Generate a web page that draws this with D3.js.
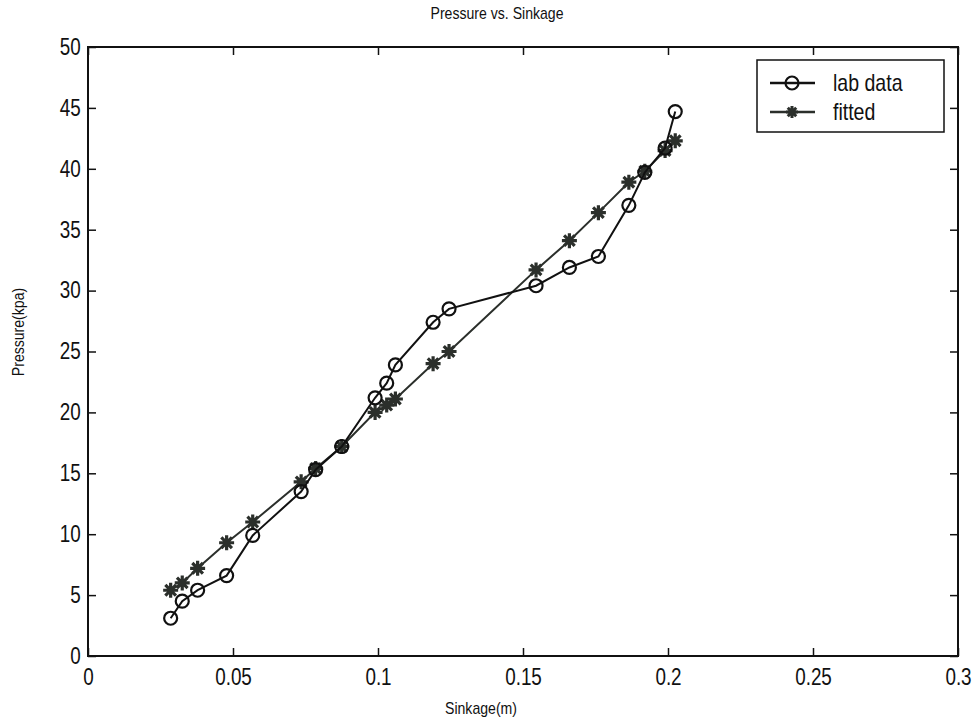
<!DOCTYPE html>
<html>
<head>
<meta charset="utf-8">
<script src="https://cdn.jsdelivr.net/npm/d3@7"></script>
<style>
	body { margin: 0; background: #fff; }
	text { font-family: "Liberation Sans Narrow", "Arial Narrow", "Liberation Sans", sans-serif; fill: #111; }
</style>
</head>
<body>
<div id="chart"></div>
<script>
// Data
const sinkage = [0.0285, 0.0325, 0.0378, 0.0478, 0.0568, 0.0735, 0.0785, 0.0875, 0.0990, 0.1030,
	0.1060, 0.1190, 0.1245, 0.1545, 0.1660, 0.1760, 0.1865, 0.1920, 0.1990, 0.2025];
const labData = [3.1, 4.5, 5.4, 6.6, 9.9, 13.5, 15.3, 17.2, 21.2, 22.4,
	23.9, 27.4, 28.5, 30.4, 31.9, 32.8, 37.0, 39.7, 41.7, 44.7];
const fitted = [5.4, 6.0, 7.2, 9.3, 11.0, 14.3, 15.4, 17.2, 20.0, 20.6,
	21.1, 24.0, 25.0, 31.7, 34.1, 36.4, 38.9, 39.8, 41.5, 42.3];
const xTicks = [0, 0.05, 0.1, 0.15, 0.2, 0.25, 0.3];
const yTicks = [0, 5, 10, 15, 20, 25, 30, 35, 40, 45, 50];
const seriesNames = ["lab data", "fitted"];

const W = 978, H = 725;
const margin = {top: 47, right: 20, bottom: 69, left: 88};
const width = W - margin.left - margin.right;
const height = H - margin.top - margin.bottom;

const svg = d3.select("#chart").append("svg")
	.attr("width", W)
	.attr("height", H);

const g = svg.append("g")
	.attr("transform", "translate(" + margin.left + "," + margin.top + ")");

const x = d3.scaleLinear().domain([0, 0.3]).range([0, width]);
const y = d3.scaleLinear().domain([0, 50]).range([height, 0]);

const fmt = d => d === 0 ? "0" : String(+d.toFixed(2));

// Axes (box with inward ticks)
const tickLen = 8;
g.append("g")
	.attr("transform", "translate(0," + height + ")")
	.call(d3.axisBottom(x).tickValues(xTicks).tickFormat(fmt).tickSizeInner(-tickLen).tickSizeOuter(0).tickPadding(13))
	.call(a => a.select(".domain").remove());
g.append("g")
	.call(d3.axisLeft(y).tickValues(yTicks).tickFormat(d3.format("d")).tickSizeInner(-tickLen).tickSizeOuter(0).tickPadding(9))
	.call(a => a.select(".domain").remove());
g.append("g")
	.call(d3.axisTop(x).tickValues(xTicks).tickFormat("").tickSizeInner(-tickLen).tickSizeOuter(0))
	.call(a => a.select(".domain").remove());
g.append("g")
	.attr("transform", "translate(" + width + ",0)")
	.call(d3.axisRight(y).tickValues(yTicks).tickFormat("").tickSizeInner(-tickLen).tickSizeOuter(0))
	.call(a => a.select(".domain").remove());

g.selectAll(".tick line").attr("stroke", "#111").attr("stroke-width", 1.5);
// condensed look of the original tick labels
g.selectAll(".tick text")
	.style("font-size", "23px")
	.attr("fill", "#111")
	.attr("transform", "scale(0.82,1)");

g.append("rect")
	.attr("width", width)
	.attr("height", height)
	.attr("fill", "none")
	.attr("stroke", "#111")
	.attr("stroke-width", 2);

// Labels
svg.append("text")
	.attr("transform", "translate(497,19) scale(0.88,1)")
	.attr("text-anchor", "middle")
	.style("font-size", "16px")
	.text("Pressure vs. Sinkage");
svg.append("text")
	.attr("transform", "translate(481,714) scale(0.88,1)")
	.attr("text-anchor", "middle")
	.style("font-size", "16px")
	.text("Sinkage(m)");
svg.append("text")
	.attr("transform", "translate(24,332) rotate(-90) scale(0.88,1)")
	.attr("text-anchor", "middle")
	.style("font-size", "16px")
	.text("Pressure(kpa)");

// Series
const pts = (vals) => sinkage.map((s, i) => [s, vals[i]]);
const line = d3.line().x(d => x(d[0])).y(d => y(d[1]));

const starPath = (r) => {
	let p = "";
	for (let k = 0; k < 4; k++) {
		const a = k * Math.PI / 4;
		const dx = r * Math.cos(a), dy = r * Math.sin(a);
		p += "M" + (-dx) + "," + (-dy) + "L" + dx + "," + dy;
	}
	return p;
};

const fitColor = "#2b2f2b";
g.append("path")
	.datum(pts(fitted))
	.attr("fill", "none")
	.attr("stroke", fitColor)
	.attr("stroke-width", 2)
	.attr("d", line);
g.selectAll(".star")
	.data(pts(fitted))
	.enter().append("path")
	.attr("class", "star")
	.attr("transform", d => "translate(" + x(d[0]) + "," + y(d[1]) + ")")
	.attr("d", starPath(7.5))
	.attr("stroke", fitColor)
	.attr("stroke-width", 3.2);

g.append("path")
	.datum(pts(labData))
	.attr("fill", "none")
	.attr("stroke", "#111")
	.attr("stroke-width", 2)
	.attr("d", line);
g.selectAll(".circ")
	.data(pts(labData))
	.enter().append("circle")
	.attr("class", "circ")
	.attr("cx", d => x(d[0]))
	.attr("cy", d => y(d[1]))
	.attr("r", 6.5)
	.attr("fill", "none")
	.attr("stroke", "#111")
	.attr("stroke-width", 2.2);

// Legend
const lg = svg.append("g").attr("transform", "translate(757,60)");
lg.append("rect")
	.attr("width", 187).attr("height", 72)
	.attr("fill", "#fff")
	.attr("stroke", "#111")
	.attr("stroke-width", 1.5);
seriesNames.forEach((name, i) => {
	const cy = 23 + i * 29;
	lg.append("line")
		.attr("x1", 13).attr("x2", 58).attr("y1", cy).attr("y2", cy)
		.attr("stroke", i === 0 ? "#111" : fitColor)
		.attr("stroke-width", 2.5);
	if (i === 0) {
		lg.append("circle").attr("cx", 35).attr("cy", cy).attr("r", 6.5)
			.attr("fill", "none").attr("stroke", "#111").attr("stroke-width", 2.2);
	} else {
		lg.append("path").attr("transform", "translate(35," + cy + ")")
			.attr("d", starPath(6)).attr("stroke", fitColor).attr("stroke-width", 3);
	}
	lg.append("text")
		.attr("transform", "translate(76," + (cy + 8) + ") scale(0.85,1)")
		.style("font-size", "23px")
		.text(name);
});
</script>
</body>
</html>
